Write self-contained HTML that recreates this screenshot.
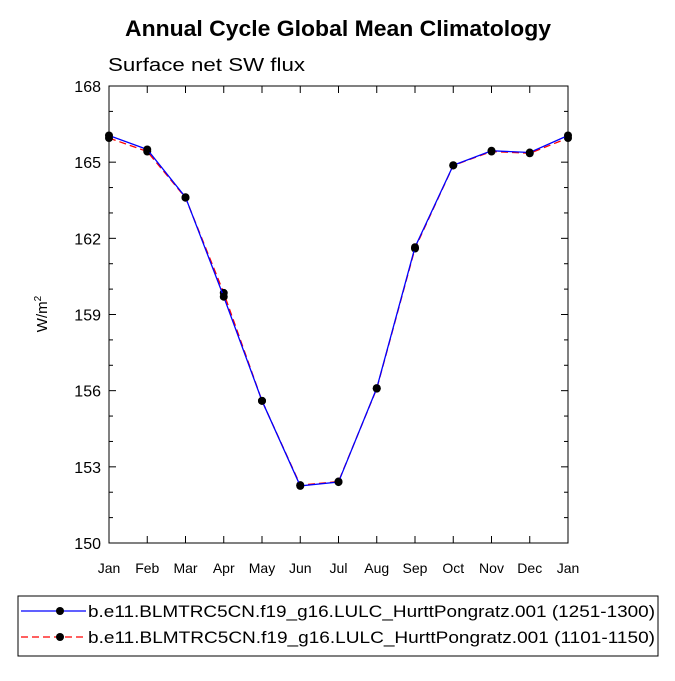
<!DOCTYPE html>
<html><head><meta charset="utf-8"><style>
body{margin:0;background:#fff;}
svg text{font-family:"Liberation Sans",sans-serif;}
</style></head><body>
<svg id="chart" width="675" height="676" xmlns="http://www.w3.org/2000/svg">
<text x="125" y="36" font-size="22" font-weight="bold" textLength="426" lengthAdjust="spacingAndGlyphs">Annual Cycle Global Mean Climatology</text>
<text x="108" y="71" font-size="18" textLength="197" lengthAdjust="spacingAndGlyphs">Surface net SW flux</text>
<g id="axes"></g>
<g id="series"></g>
<text transform="translate(47,314) rotate(-90)" text-anchor="middle" font-size="15">W/m<tspan dy="-6" font-size="10">2</tspan></text>
<rect x="18" y="596" width="640" height="60" fill="none" stroke="#000" stroke-width="1"/>
<g>
<line x1="21" y1="611" x2="86" y2="611" stroke="#0000ff" stroke-width="1.3"/>
<circle cx="60" cy="611" r="4" fill="#000"/>
<text x="88" y="617" font-size="17" textLength="567" lengthAdjust="spacingAndGlyphs">b.e11.BLMTRC5CN.f19_g16.LULC_HurttPongratz.001 (1251-1300)</text>
</g>
<g>
<line x1="21" y1="637" x2="86" y2="637" stroke="#ff0000" stroke-width="1.3" stroke-dasharray="7,4"/>
<circle cx="60" cy="637" r="4" fill="#000"/>
<text x="88" y="643" font-size="17" textLength="567" lengthAdjust="spacingAndGlyphs">b.e11.BLMTRC5CN.f19_g16.LULC_HurttPongratz.001 (1101-1150)</text>
</g>
</svg>
<script>
const months=["Jan","Feb","Mar","Apr","May","Jun","Jul","Aug","Sep","Oct","Nov","Dec","Jan"];
const blueValues=[166.05,165.5,163.62,159.7,155.6,152.25,152.4,156.1,161.65,164.88,165.45,165.38,166.05];
const redValues=[165.95,165.42,163.6,159.85,155.6,152.28,152.42,156.08,161.6,164.87,165.42,165.35,165.95];
const yTicks=[150,153,156,159,162,165,168];
const X0=109,X1=568,Y0=543,Y1=86,YMIN=150,YMAX=168;
const xs=i=>X0+(X1-X0)*i/(months.length-1);
const ys=v=>Y0-(v-YMIN)/(YMAX-YMIN)*(Y0-Y1);
const NS="http://www.w3.org/2000/svg";
const ax=document.getElementById('axes'),se=document.getElementById('series');
function mk(t,a,p){const e=document.createElementNS(NS,t);for(const k in a)e.setAttribute(k,a[k]);p.appendChild(e);return e;}
const frame=mk('rect',{x:X0,y:Y1,width:X1-X0,height:Y0-Y1,fill:'none',stroke:'#000','stroke-width':1},ax);


for(let v=YMIN;v<=YMAX;v++){
  const major=yTicks.includes(v),L=major?7:4,y=ys(v);
  mk('line',{x1:X0,y1:y,x2:X0+L,y2:y,stroke:'#000'},ax);
  mk('line',{x1:X1,y1:y,x2:X1-L,y2:y,stroke:'#000'},ax);
}
yTicks.forEach(v=>{
  const t=mk('text',{x:X0-8,y:ys(v)+6,'text-anchor':'end','font-size':16},ax);t.textContent=v;
  
  
});
months.forEach((m,i)=>{
  const x=xs(i);
  mk('line',{x1:x,y1:Y0,x2:x,y2:Y0-7,stroke:'#000'},ax);
  mk('line',{x1:x,y1:Y1,x2:x,y2:Y1+7,stroke:'#000'},ax);
  const t=mk('text',{x:x,y:Y0+30,'text-anchor':'middle','font-size':14},ax);t.textContent=m;
  
  
});
function series(vals,color,dash,name){
  const g=mk('g',{},se);
  
  
  const a={points:vals.map((v,i)=>xs(i)+','+ys(v)).join(' '),fill:'none',stroke:color,'stroke-width':1.3};
  if(dash)a['stroke-dasharray']=dash;
  mk('polyline',a,g);
  vals.forEach((v,i)=>{const c=mk('circle',{cx:xs(i),cy:ys(v),r:4,fill:'#000'},g);
    
    });
}
series(redValues,'#ff0000','7,4','series-1101-1150');
series(blueValues,'#0000ff',null,'series-1251-1300');
</script>
</body></html>
